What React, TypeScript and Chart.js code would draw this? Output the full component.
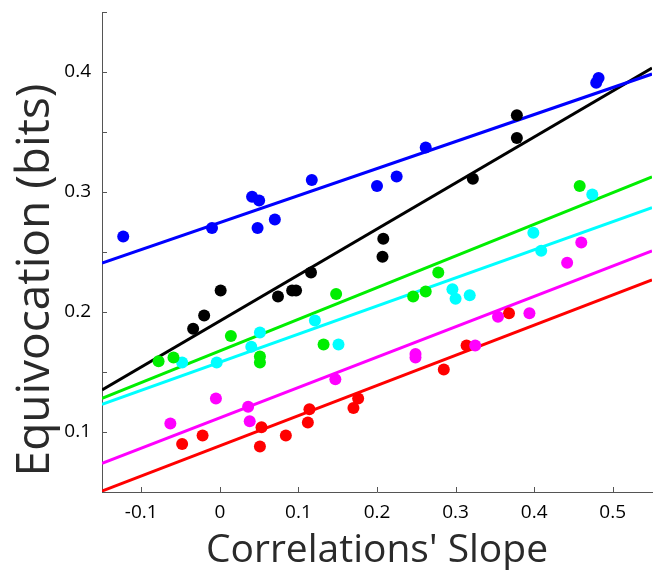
import React, { useEffect, useRef } from 'react';
import { Chart, registerables } from 'chart.js';
Chart.register(...registerables);

const xTickValues = [-0.1, 0, 0.1, 0.2, 0.3, 0.4, 0.5];
const yTickValues = [0.05, 0.1, 0.15, 0.2, 0.25, 0.3, 0.35, 0.4, 0.45];
const yLabelledTicks = [0.1, 0.2, 0.3, 0.4];
const xTitleText = "Correlations' Slope";
const yTitleText = 'Equivocation (bits)';

const blueX = [-0.123, -0.010, 0.041, 0.050, 0.048, 0.070, 0.117, 0.200, 0.225, 0.262, 0.479, 0.482];
const blueY = [0.263, 0.270, 0.296, 0.293, 0.270, 0.277, 0.310, 0.305, 0.313, 0.337, 0.391, 0.395];

const blackX = [-0.034, -0.020, 0.001, 0.074, 0.092, 0.097, 0.116, 0.208, 0.207, 0.322, 0.378, 0.378];
const blackY = [0.186, 0.197, 0.218, 0.213, 0.218, 0.218, 0.233, 0.261, 0.246, 0.311, 0.345, 0.364];

const greenX = [-0.078, -0.059, 0.014, 0.051, 0.051, 0.148, 0.132, 0.246, 0.262, 0.278, 0.458];
const greenY = [0.159, 0.162, 0.180, 0.163, 0.158, 0.215, 0.173, 0.213, 0.217, 0.233, 0.305];

const cyanX = [-0.048, -0.004, 0.040, 0.051, 0.121, 0.151, 0.296, 0.300, 0.318, 0.399, 0.409, 0.474];
const cyanY = [0.158, 0.158, 0.171, 0.183, 0.193, 0.173, 0.219, 0.211, 0.214, 0.266, 0.251, 0.298];

const magentaX = [-0.063, -0.005, 0.036, 0.038, 0.147, 0.249, 0.249, 0.325, 0.354, 0.394, 0.442, 0.460];
const magentaY = [0.107, 0.128, 0.121, 0.109, 0.144, 0.165, 0.162, 0.172, 0.196, 0.199, 0.241, 0.258];

const redX = [-0.048, -0.022, 0.053, 0.051, 0.084, 0.114, 0.112, 0.176, 0.170, 0.285, 0.314, 0.368];
const redY = [0.090, 0.097, 0.104, 0.088, 0.097, 0.119, 0.108, 0.128, 0.120, 0.152, 0.172, 0.199];

const fitX = [-0.15, 0.55];
const blueFit = [0.2408, 0.3983];
const blackFit = [0.135, 0.4033];
const greenFit = [0.128, 0.3125];
const cyanFit = [0.123, 0.287];
const magentaFit = [0.0739, 0.251];
const redFit = [0.0508, 0.2267];

const BLUE = '#0000ff';
const BLACK = '#000000';
const GREEN = '#00ee00';
const CYAN = '#00ffff';
const MAGENTA = '#ff00ff';
const RED = '#ff0000';

const FONT = "'Open Sans', 'Noto Sans', sans-serif";
const TITLE_COLOR = '#2a2a2a';

const pts = (xs: number[], ys: number[]) => xs.map((x, i) => ({ x, y: ys[i] }));

const groups = [
  { xs: blueX, ys: blueY, fit: blueFit, color: BLUE },
  { xs: blackX, ys: blackY, fit: blackFit, color: BLACK },
  { xs: greenX, ys: greenY, fit: greenFit, color: GREEN },
  { xs: cyanX, ys: cyanY, fit: cyanFit, color: CYAN },
  { xs: magentaX, ys: magentaY, fit: magentaFit, color: MAGENTA },
  { xs: redX, ys: redY, fit: redFit, color: RED },
];

const innerTicks = {
  id: 'innerTicks',
  afterDatasetsDraw(chart: any) {
    const { ctx, chartArea, scales } = chart;
    ctx.save();
    ctx.strokeStyle = '#555';
    ctx.lineWidth = 1;
    ctx.beginPath();
    for (const t of scales.x.ticks) {
      const px = Math.round(scales.x.getPixelForValue(t.value)) + 0.5;
      ctx.moveTo(px, chartArea.bottom);
      ctx.lineTo(px, chartArea.bottom - 5);
    }
    for (const t of scales.y.ticks) {
      const py = Math.round(scales.y.getPixelForValue(t.value)) + 0.5;
      ctx.moveTo(chartArea.left, py);
      ctx.lineTo(chartArea.left + 5, py);
    }
    ctx.stroke();
    ctx.restore();
  },
};

const yTitle = {
  id: 'yTitle',
  afterDraw(chart: any) {
    const { ctx } = chart;
    ctx.save();
    ctx.translate(49, 280);
    ctx.rotate(-Math.PI / 2);
    ctx.font = `46px ${FONT}`;
    ctx.fillStyle = TITLE_COLOR;
    ctx.textAlign = 'center';
    ctx.textBaseline = 'alphabetic';
    ctx.fillText(yTitleText, 0, 0);
    ctx.restore();
  },
};

export default function App() {
  const ref = useRef<HTMLCanvasElement>(null);
  useEffect(() => {
    document.body.style.margin = '0';
    const datasets: any[] = [];
    groups.forEach((g) => {
      datasets.push({
        type: 'line',
        data: pts(fitX, g.fit),
        borderColor: g.color,
        borderWidth: 3,
        pointRadius: 0,
        showLine: true,
        fill: false,
        order: 1,
      });
    });
    groups.forEach((g) => {
      datasets.push({
        type: 'scatter',
        data: pts(g.xs, g.ys),
        backgroundColor: g.color,
        borderColor: g.color,
        borderWidth: 0,
        pointRadius: 6,
        order: 0,
      });
    });
    const chart = new Chart(ref.current as HTMLCanvasElement, {
      type: 'scatter',
      data: { datasets },
      options: {
        animation: false,
        responsive: false,
        maintainAspectRatio: false,
        layout: { padding: { top: 12, right: 0, left: 0, bottom: 0 } },
        plugins: { legend: { display: false }, tooltip: { enabled: false } },
        scales: {
          x: {
            type: 'linear',
            min: -0.15,
            max: 0.55,
            afterBuildTicks: (s: any) => {
              s.ticks = xTickValues.map((v) => ({ value: v }));
            },
            afterFit: (s: any) => {
              s.height = 78;
              s.paddingLeft = 0;
              s.paddingRight = 0;
            },
            grid: { display: false, drawTicks: false },
            border: { display: true, color: '#555', width: 1 },
            ticks: {
              padding: 9,
              color: '#000',
              font: { family: FONT, size: 19 },
              maxRotation: 0,
              callback: (v: any) => (Math.abs(v) < 1e-9 ? '0' : Number(v).toFixed(1)),
            },
            title: {
              display: true,
              text: xTitleText,
              color: TITLE_COLOR,
              font: { family: FONT, size: 39, lineHeight: 1.0 },
              padding: { top: 0, bottom: 0 },
            },
          },
          y: {
            type: 'linear',
            min: 0.05,
            max: 0.45,
            afterBuildTicks: (s: any) => {
              s.ticks = yTickValues.map((v) => ({ value: v }));
            },
            afterFit: (s: any) => {
              s.width = 102;
              s.paddingTop = 0;
              s.paddingBottom = 0;
            },
            grid: { display: false, drawTicks: false },
            border: { display: true, color: '#555', width: 1 },
            ticks: {
              padding: 11,
              color: '#000',
              font: { family: FONT, size: 19 },
              callback: (v: any) =>
                yLabelledTicks.some((t) => Math.abs(t - v) < 1e-9) ? Number(v).toFixed(1) : '',
            },
            title: { display: false },
          },
        },
      },
      plugins: [innerTicks, yTitle],
    });
    return () => chart.destroy();
  }, []);
  return (
    <div style={{ position: 'absolute', left: 0, top: 0, width: 658, height: 570 }}>
      <canvas ref={ref} width={658} height={570} />
    </div>
  );
}
